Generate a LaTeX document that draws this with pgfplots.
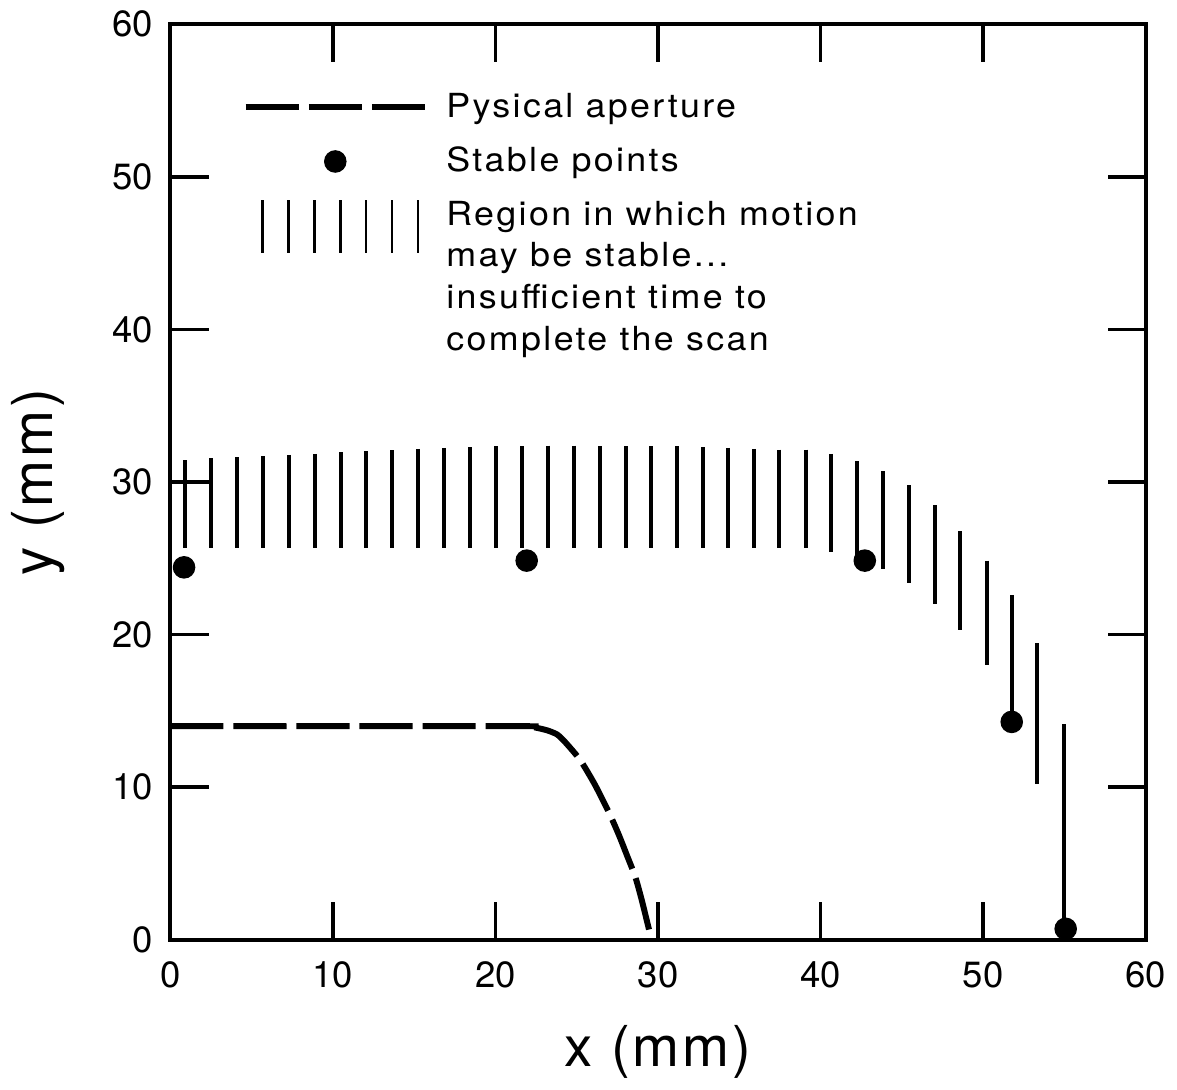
\documentclass[border=0pt]{standalone}
\usepackage{fontspec}
\setmainfont{TeX Gyre Heros}
\newfontfamily\legfont{TeX Gyre Heros}[LetterSpace=7, FakeStretch=1.08]
\newfontfamily\labfont{TeX Gyre Heros}[LetterSpace=5]
\usepackage{pgfplots}
\usepackage{pgfplotstable}
\pgfplotsset{compat=1.18}

% hatch bars: x, lower end, upper end (mm)
\pgfplotstableread{
x     lo    hi
0.90  25.7  31.42
2.51  25.7  31.57
4.10  25.7  31.63
5.69  25.7  31.70
7.29  25.7  31.78
8.90  25.7  31.85
10.49 25.7  31.96
12.06 25.7  32.02
13.65 25.7  32.09
15.26 25.7  32.17
16.86 25.7  32.24
18.45 25.7  32.28
20.04 25.7  32.33
21.63 25.7  32.35
23.22 25.7  32.39
24.81 25.7  32.39
26.41 25.7  32.35
28.00 25.7  32.35
29.57 25.7  32.35
31.16 25.7  32.35
32.76 25.7  32.28
34.33 25.7  32.24
35.90 25.7  32.17
37.47 25.7  32.13
39.08 25.7  32.13
40.67 25.4  31.85
42.24 25.0  31.37
43.84 24.3  30.70
45.41 23.4  29.79
47.02 22.0  28.48
48.59 20.3  26.79
50.22 18.0  24.85
51.78 14.6  22.57
53.34 10.2  19.42
54.96 1.0   14.13
}\hatch

\begin{document}
\begin{tikzpicture}
\begin{axis}[
  scale only axis,
  width=294pt, height=276pt,
  xmin=0, xmax=60, ymin=0, ymax=60,
  xtick={0,10,...,60}, ytick={0,10,...,60},
  axis line style={line width=1.2pt},
  major tick style={line width=1.1pt, black},
  major tick length=11.5pt,
  tick align=inside,
  clip=false,
  /pgf/number format/assume math mode=true,
  tick label style={font=\fontsize{11}{13}\selectfont},
  xticklabel style={yshift=-3pt},
  yticklabel style={xshift=-1.7pt},
  xlabel={x (mm)}, ylabel={y (mm)},
  every axis x label/.style={at={(axis description cs:0.5,-0.122)}, anchor=center,
    font=\labfont\fontsize{17}{20}\selectfont},
  every axis y label/.style={at={(axis description cs:-0.136,0.5)}, rotate=90, anchor=center,
    font=\labfont\fontsize{17}{20}\selectfont},
  legend cell align=left,
  legend style={draw=none, fill=none, inner sep=0pt,
    at={(0.0735,0.933)}, anchor=north west,
    font=\legfont\fontsize{10}{12.6}\selectfont,
    row sep=3.4pt, column sep=3.6pt},
]

% physical aperture
\addplot[black, line width=1.8pt, dash pattern=on 16pt off 3pt, smooth, tension=0.4,
  legend image code/.code={\draw[sharp plot] (0pt,0pt) -- (54pt,0pt);}]
  coordinates {(0,14.0)(21.5,14.0)(22.4,13.92)(23.2,13.72)(23.8,13.45)
    (24.3,12.94)(25.2,11.8)(26.1,10.2)(27.0,8.3)(27.6,6.85)(28.1,5.5)
    (28.6,4.13)(29.0,2.6)(29.4,0.87)(29.6,0)};
\addlegendentry{Pysical aperture}

% stable points
\addplot[black, only marks, mark=*, mark size=3.2pt,
  legend image code/.code={\draw plot coordinates {(27pt,0pt)};}]
  coordinates {(0.84,24.41)(21.92,24.85)(42.72,24.85)(51.76,14.28)(55.08,0.72)};
\addlegendentry{Stable points}

% region that may be stable
\addplot[draw=none, mark=none,
  error bars/.cd, y dir=minus, y explicit, error mark=none,
  error bar style={line width=1.2pt, black},
  /pgfplots/legend image code/.code={
    \foreach \i in {0,...,6} {\draw[black, solid, line width=0.8pt] (5.1pt+\i*7.8pt,-11.3pt) -- (5.1pt+\i*7.8pt,4.7pt);}}]
  table[x=x, y=hi, y error expr=\thisrow{hi}-\thisrow{lo}] {\hatch};
\addlegendentry{\vtop{\hbox{Region in which motion}\hbox{may be stable...}\hbox{insufficient time to}\hbox{complete the scan}}}
\end{axis}
\end{tikzpicture}
\end{document}
